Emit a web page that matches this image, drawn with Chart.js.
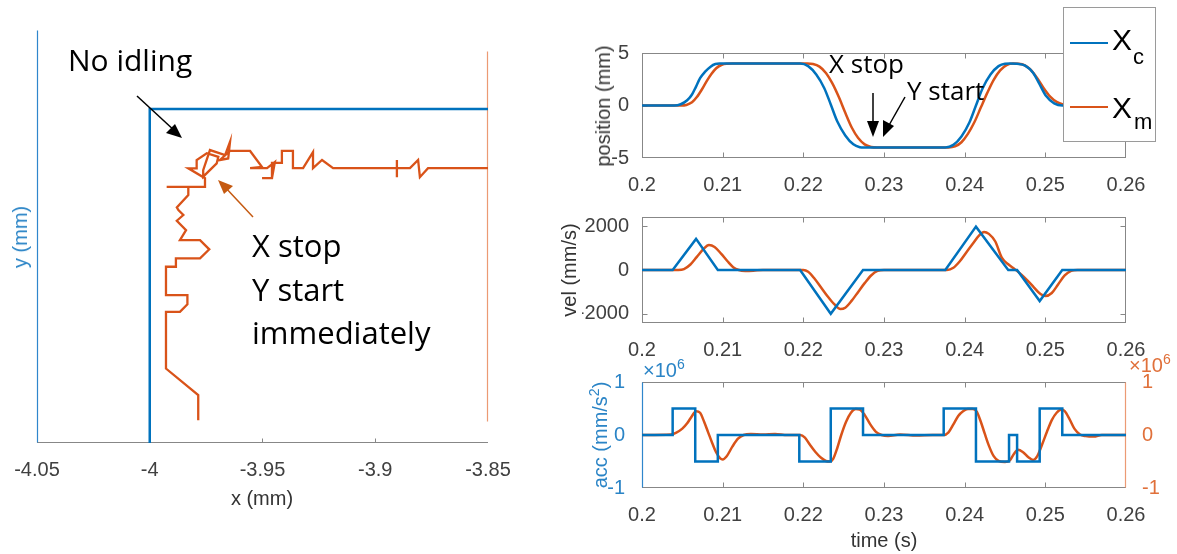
<!DOCTYPE html>
<html><head><meta charset="utf-8">
<script src="https://cdn.jsdelivr.net/npm/chart.js@4.4.1/dist/chart.umd.min.js"></script>
<style>
html,body{margin:0;padding:0;background:#fff;width:1177px;height:554px;overflow:hidden;position:relative;}
canvas{position:absolute;left:0;top:0;}
.t{position:absolute;white-space:nowrap;font-family:"Liberation Sans",Arial,sans-serif;font-size:20px;color:#333;line-height:20px;}
.rot{transform:translate(-50%,-50%) rotate(-90deg);}
.ctr{transform:translate(-50%,-50%);}
.ann{position:absolute;white-space:nowrap;font-family:"Open Sans",sans-serif;color:#000;}
sup{font-size:14px;vertical-align:top;position:relative;top:-6px;}
</style></head><body>
<canvas id="c0" width="1177" height="554"></canvas>
<canvas id="c1" width="1177" height="554"></canvas>
<canvas id="c2" width="1177" height="554"></canvas>
<canvas id="c3" width="1177" height="554"></canvas>

<!-- axis titles -->
<div class="t rot" style="left:20px;top:237px;color:#2a84c6;">y (mm)</div>
<div class="t ctr" style="left:262px;top:498px;">x (mm)</div>
<div class="t rot" style="left:603px;top:106px;">position (mm)</div>
<div class="t rot" style="left:569px;top:270px;">vel (mm/s)</div>
<div class="t rot" style="left:600px;top:435px;color:#2a84c6;">acc (mm/s<sup>2</sup>)</div>
<div class="t ctr" style="left:884px;top:540px;">time (s)</div>
<div class="t" style="left:643px;top:360px;color:#2a84c6;">&times;10<sup>6</sup></div>
<div class="t" style="left:1129px;top:355px;color:#e0703a;">&times;10<sup>6</sup></div>

<!-- annotations -->
<div class="ann" style="left:68px;top:45px;font-size:30px;line-height:30px;">No idling</div>
<div class="ann" style="left:252px;top:224px;font-size:31px;line-height:43.5px;">X stop<br>Y start<br>immediately</div>
<div class="ann" style="left:829px;top:50px;font-size:26px;line-height:26px;">X stop</div>
<div class="ann" style="left:907px;top:77px;font-size:26px;line-height:26px;">Y start</div>

<svg width="1177" height="554" style="position:absolute;left:0;top:0;pointer-events:none;">
  <line x1="137" y1="96" x2="176" y2="132" stroke="#000" stroke-width="1.5"/>
  <path d="M182,138 L166,133 L175,124 z" fill="#000"/>
  <line x1="253" y1="217" x2="224" y2="186" stroke="#c55a11" stroke-width="1.5"/>
  <path d="M218,180 L233,186 L224,194 z" fill="#c55a11"/>
  <line x1="873" y1="93" x2="873" y2="125" stroke="#000" stroke-width="1.5"/>
  <path d="M873,137 L867,121 L879,121 z" fill="#000"/>
  <line x1="905" y1="97" x2="888" y2="127" stroke="#000" stroke-width="1.5"/>
  <path d="M883,137 L883,120 L894,126 z" fill="#000"/>
</svg>

<!-- legend -->
<div style="position:absolute;left:1063px;top:7px;width:93px;height:135px;box-sizing:border-box;border:1px solid #9a9a9a;background:#fff;"></div>
<div style="position:absolute;left:1070px;top:41.75px;width:38px;height:2.5px;background:#0072BD;"></div>
<div class="t" style="left:1112px;top:25px;font-size:30px;line-height:30px;color:#000;">X</div>
<div class="t" style="left:1133px;top:46px;font-size:22px;line-height:22px;color:#000;">c</div>
<div style="position:absolute;left:1070px;top:105.75px;width:38px;height:2.5px;background:#D95319;"></div>
<div class="t" style="left:1112px;top:93px;font-size:30px;line-height:30px;color:#000;">X</div>
<div class="t" style="left:1134px;top:111px;font-size:22px;line-height:22px;color:#000;">m</div>

<script>
// ---------------- data ----------------
// left panel: XY trajectory (mm)
const xyTicks = [-4.05, -4, -3.95, -3.9, -3.85];
const xyTickLabels = ['-4.05', '-4', '-3.95', '-3.9', '-3.85'];
const cmdX = [-4, -4, -3.85];
const cmdY = [3.852, 4, 4];
const measX = [-3.9785, -3.9785, -3.9928, -3.9928, -3.9866, -3.9833, -3.9833, -3.9928, -3.9928, -3.9884,
  -3.9884, -3.9777, -3.9736, -3.9777, -3.9866, -3.9839, -3.9880, -3.9851, -3.9873, -3.9880,
  -3.9829, -3.9829, -3.9925, -3.9755, -3.9755, -3.9829, -3.9792, -3.9792, -3.9747, -3.9696,
  -3.9703, -3.9763, -3.9763, -3.9733, -3.9666, -3.9644, -3.9652, -3.9689, -3.9644, -3.9555,
  -3.9502, -3.9555, -3.9480, -3.9445, -3.9458, -3.9502, -3.9458, -3.9458, -3.9414, -3.9414,
  -3.9365, -3.9365, -3.9320, -3.9276, -3.9276, -3.9236, -3.9187, -3.8904, -3.8904, -3.8904,
  -3.8904, -3.8846, -3.8810, -3.8802, -3.8766, -3.8500];
const measY = [3.8621, 3.8732, 3.8850, 3.9101, 3.9101, 3.9135, 3.9175, 3.9175, 3.9301, 3.9301,
  3.9338, 3.9338, 3.9378, 3.9419, 3.9419, 3.9463, 3.9505, 3.9530, 3.9552, 3.9564,
  3.9619, 3.9655, 3.9655, 3.9655, 3.9693, 3.9737, 3.9737, 3.9774, 3.9804, 3.9788,
  3.9759, 3.9700, 3.9729, 3.9818, 3.9796, 3.9855, 3.9781, 3.9774, 3.9814, 3.9814,
  3.9743, 3.9738, 3.9738, 3.9765, 3.9694, 3.9694, 3.9694, 3.9761, 3.9761, 3.9814,
  3.9814, 3.9738, 3.9738, 3.9809, 3.9738, 3.9774, 3.9738, 3.9738, 3.9774, 3.9698,
  3.9738, 3.9738, 3.9774, 3.9698, 3.9738, 3.9738];

// right panels: time series
const timeTicks = [0.2, 0.21, 0.22, 0.23, 0.24, 0.25, 0.26];
const timeTickLabels = ['0.2', '0.21', '0.22', '0.23', '0.24', '0.25', '0.26'];
const posTicks = [-5, 0, 5];
const posTickLabels = ['-5', '0', '5'];
const velTicks = [-2000, 0, 2000];
const velTickLabels = ['-2000', '0', '2000'];
const accTicks = [-1e6, 0, 1e6];
const accTickLabels = ['-1', '0', '1'];

const posCT = [0.2000, 0.2040, 0.2048, 0.2056, 0.2062, 0.2067, 0.2072, 0.2078, 0.2085, 0.2091, 0.2096,
  0.2196, 0.2206, 0.2216, 0.2226, 0.2234, 0.2242, 0.2252, 0.2262, 0.2270, 0.2275,
  0.2376, 0.2386, 0.2396, 0.2406, 0.2414, 0.2422, 0.2432, 0.2442, 0.2450, 0.2456, 0.2465,
  0.2475, 0.2485, 0.2493, 0.2501, 0.2511, 0.2521, 0.2600];
const posC = [0, 0, 0.12, 0.5, 1.05, 1.8, 2.6, 3.2, 3.7, 3.95, 4.0,
  4.0, 3.75, 2.95, 1.65, 0.1, -1.5, -2.85, -3.7, -3.97, -4.0,
  -4.0, -3.75, -2.95, -1.6, 0.0, 1.6, 2.95, 3.75, 3.98, 4.0, 3.97,
  3.8, 3.1, 2.0, 0.9, 0.2, 0.0, 0.0];
const posMT = [0.2000, 0.2048, 0.2055, 0.2062, 0.2068, 0.2074, 0.2080, 0.2086, 0.2092, 0.2099, 0.2106, 0.2112,
  0.2205, 0.2212, 0.2220, 0.2228, 0.2236, 0.2244, 0.2252, 0.2260, 0.2268, 0.2276, 0.2284, 0.2292,
  0.2380, 0.2388, 0.2396, 0.2404, 0.2412, 0.2420, 0.2428, 0.2436, 0.2444, 0.2452, 0.2460, 0.2467,
  0.2474, 0.2482, 0.2490, 0.2498, 0.2506, 0.2514, 0.2522, 0.2530, 0.2600];
const posM = [0, 0, 0.05, 0.3, 0.8, 1.5, 2.3, 3.0, 3.55, 3.88, 3.98, 4.0,
  4.0, 3.95, 3.7, 3.1, 2.1, 0.8, -0.7, -2.1, -3.1, -3.7, -3.95, -4.0,
  -4.0, -3.9, -3.5, -2.7, -1.6, -0.2, 1.2, 2.45, 3.35, 3.85, 4.0, 3.98,
  3.85, 3.4, 2.6, 1.65, 0.85, 0.35, 0.1, 0.0, 0.0];

const velCT = [0.2, 0.2038, 0.2067, 0.2094, 0.2196, 0.2234, 0.2274, 0.2376, 0.2414, 0.2454, 0.2465, 0.2493, 0.2521, 0.26];
const velC = [0, 0, 1420, 0, 0, -2000, 0, 0, 1980, 0, 0, -1420, 0, 0];
const velMT = [0.2000, 0.2045, 0.2052, 0.2060, 0.2068, 0.2076, 0.2083, 0.2090, 0.2098, 0.2106, 0.2113, 0.2120, 0.2128, 0.2138, 0.2150,
  0.2200, 0.2206, 0.2214, 0.2222, 0.2230, 0.2238, 0.2246, 0.2252, 0.2260, 0.2268, 0.2276, 0.2284, 0.2292, 0.2300,
  0.2378, 0.2386, 0.2394, 0.2402, 0.2410, 0.2418, 0.2424, 0.2430, 0.2438, 0.2446, 0.2454, 0.2462, 0.2470, 0.2478,
  0.2486, 0.2494, 0.2500, 0.2508, 0.2516, 0.2524, 0.2532, 0.2540, 0.2600];
const velM = [0, 0, 40, 250, 600, 950, 1140, 1050, 750, 400, 130, 0, -40, -30, 0,
  0, -80, -400, -800, -1200, -1550, -1780, -1720, -1400, -1000, -600, -250, -40, 0,
  0, 100, 400, 800, 1200, 1580, 1740, 1650, 1300, 560, 260, 40, -200, -480,
  -800, -1100, -1190, -1050, -650, -250, -40, 0, 0];

const accCT = [0.2, 0.2038, 0.2066, 0.2094, 0.2195, 0.2234, 0.2274, 0.2374, 0.2414, 0.2455, 0.2465, 0.2493, 0.2521, 0.26];
const accC = [0, 5e5, -5e5, 0, -5e5, 5e5, 0, 5e5, -5e5, 0, -5e5, 5e5, 0, 0];
const accMT = [0.2000, 0.2036, 0.2042, 0.2050, 0.2056, 0.2062, 0.2067, 0.2072, 0.2077, 0.2082, 0.2087, 0.2092, 0.2097, 0.2100,
  0.2105, 0.2112, 0.2119, 0.2126, 0.2135, 0.2150, 0.2165, 0.2180, 0.2196, 0.2202, 0.2208, 0.2215, 0.2222, 0.2228,
  0.2233, 0.2237, 0.2242, 0.2247, 0.2253, 0.2259, 0.2265, 0.2270, 0.2276, 0.2283, 0.2290, 0.2297, 0.2305, 0.2320,
  0.2340, 0.2360, 0.2374, 0.2380, 0.2386, 0.2392, 0.2398, 0.2404, 0.2410, 0.2415, 0.2420, 0.2425, 0.2430, 0.2436,
  0.2442, 0.2450, 0.2456, 0.2461, 0.2466, 0.2472, 0.2479, 0.2485, 0.2490, 0.2496, 0.2502, 0.2508, 0.2514, 0.2520,
  0.2524, 0.2530, 0.2536, 0.2543, 0.2550, 0.2560, 0.2570, 0.2600];
const accM = [0, 0.01e6, 0.04e6, 0.12e6, 0.22e6, 0.36e6, 0.45e6, 0.42e6, 0.25e6, 0.05e6, -0.15e6, -0.33e6, -0.44e6, -0.46e6,
  -0.40e6, -0.22e6, -0.07e6, 0, 0.02e6, 0.01e6, 0.02e6, 0, 0, -0.05e6, -0.18e6, -0.32e6, -0.43e6, -0.49e6,
  -0.50e6, -0.45e6, -0.25e6, 0, 0.25e6, 0.42e6, 0.49e6, 0.48e6, 0.38e6, 0.20e6, 0.06e6, 0, -0.02e6, 0.01e6,
  -0.01e6, 0, 0, 0.05e6, 0.20e6, 0.36e6, 0.45e6, 0.49e6, 0.49e6, 0.44e6, 0.25e6, 0.02e6, -0.20e6, -0.40e6,
  -0.49e6, -0.51e6, -0.48e6, -0.36e6, -0.28e6, -0.32e6, -0.42e6, -0.47e6, -0.40e6, -0.18e6, 0.06e6, 0.28e6, 0.42e6, 0.48e6,
  0.45e6, 0.30e6, 0.12e6, 0.01e6, -0.02e6, -0.03e6, 0, 0];

// ---------------- styling ----------------
const BLUE = '#0072BD', ORANGE = '#D95319';
const BLUE_T = '#2a84c6', ORANGE_T = '#e0703a';
const GRAY = '#878787', TICKC = '#404040';
const FONT = {family: '"Liberation Sans", Arial, sans-serif', size: 20};
const W = 1177, H = 554;
const YW = 60, YW2 = 45, XH = 40, XPAD = 7;

const pts = (xs, ys) => xs.map((x, i) => ({x: x, y: ys[i]}));

const framePlugin = {
  id: 'frame',
  beforeDatasetsDraw(chart, args, o) {
    const {ctx, chartArea: a, scales} = chart;
    const L = Math.round(a.left) + 0.5, R = Math.round(a.right) - 0.5;
    const T = Math.round(a.top) + 0.5, B = Math.round(a.bottom) - 0.5;
    const tl = o.tick || 5;
    ctx.save();
    const seg = (c, x1, y1, x2, y2, w) => { ctx.lineWidth = w || 1; ctx.strokeStyle = c; ctx.beginPath(); ctx.moveTo(x1, y1); ctx.lineTo(x2, y2); ctx.stroke(); };
    if (o.xTicks) {
      const s = scales.x;
      s.ticks.forEach(t => {
        const p = Math.round(s.getPixelForValue(t.value)) + 0.5;
        if (p <= L + 1 || p >= R - 1) return;
        if (o.xTicks.indexOf('bottom') >= 0) seg(GRAY, p, B, p, B - tl);
        if (o.xTicks.indexOf('top') >= 0) seg(GRAY, p, T, p, T + tl);
      });
    }
    (o.yTicks || []).forEach(d => {
      const s = scales[d[0]];
      s.ticks.forEach(t => {
        const p = Math.round(s.getPixelForValue(t.value)) + 0.5;
        if (p <= T + 1 || p >= B - 1) return;
        if (d[1] === 'left' || d[1] === 'both') seg(d[2], L, p, L + tl, p);
        if (d[1] === 'right' || d[1] === 'both') seg(d[3] || d[2], R, p, R - tl, p);
      });
    });
    if (o.top) seg(o.top, L - 0.5, T, R + 0.5, T);
    if (o.bottom) seg(o.bottom, L - 0.5, B, R + 0.5, B);
    if (o.left) seg(o.left, L, o.leftSpan ? T + o.leftSpan[0] : T, L, o.leftSpan ? B - o.leftSpan[1] : B, o.sideW);
    if (o.right) seg(o.right, R, o.rightSpan ? T + o.rightSpan[0] : T, R, o.rightSpan ? B - o.rightSpan[1] : B, o.sideW);
    ctx.restore();
  }
};

function xScale(min, max, tickVals, tickLabels) {
  return {
    type: 'linear', min: min, max: max,
    afterBuildTicks: s => { s.ticks = tickVals.map(v => ({value: v})); },
    afterFit: s => { s.height = XH; },
    grid: {display: false}, border: {display: false},
    ticks: {font: FONT, color: TICKC, padding: XPAD, autoSkip: false, maxRotation: 0, minRotation: 0,
      callback: (v, i) => tickLabels[i]}
  };
}
function yScale(pos, min, max, tickVals, tickLabels, color, pad, w) {
  return {
    type: 'linear', position: pos, min: min, max: max,
    afterBuildTicks: s => { s.ticks = tickVals.map(v => ({value: v})); },
    afterFit: s => { s.width = w; },
    grid: {display: false}, border: {display: false},
    ticks: {font: FONT, color: color, padding: pad, autoSkip: false,
      callback: (v, i) => tickLabels[i]}
  };
}
// chart area edges (px) -> layout padding given axis box sizes
function area(l, t, r, b, yl, yr) { return {left: l - yl, top: t, right: W - r - yr, bottom: H - b - XH}; }

function make(id, pad, datasets, scales, frame) {
  return new Chart(document.getElementById(id), {
    type: 'line',
    data: {datasets: datasets},
    options: {
      responsive: false, animation: false, devicePixelRatio: 1,
      layout: {padding: pad},
      scales: scales,
      plugins: {legend: {display: false}, tooltip: {enabled: false}, frame: frame},
      elements: {point: {radius: 0}}
    },
    plugins: [framePlugin]
  });
}

// left XY panel
make('c0', area(37, 30, 488, 443, 0, 0), [
  {data: pts(cmdX, cmdY), borderColor: BLUE, borderWidth: 2.5, tension: 0, fill: false},
  {data: pts(measX, measY), borderColor: ORANGE, borderWidth: 2.3, tension: 0, fill: false}
], {
  x: xScale(-4.05, -3.85, xyTicks, xyTickLabels),
  y: {type: 'linear', display: false, min: 3.852, max: 4.035}
}, {left: '#2f86cc', right: '#ec9a74', rightSpan: [21, 21], bottom: GRAY, xTicks: ['bottom'], tick: 4, sideW: 1.2});

// position
make('c1', area(642, 53, 1126, 158, YW, 0), [
  {data: pts(posCT, posC), borderColor: BLUE, borderWidth: 2.5, tension: 0.4, cubicInterpolationMode: 'monotone'},
  {data: pts(posMT, posM), borderColor: ORANGE, borderWidth: 2.5, tension: 0.4, cubicInterpolationMode: 'monotone'}
], {
  x: xScale(0.2, 0.26, timeTicks, timeTickLabels),
  y: yScale('left', -5, 5, posTicks, posTickLabels, TICKC, 5, YW)
}, {top: GRAY, bottom: GRAY, left: GRAY, right: GRAY, xTicks: ['top', 'bottom'], yTicks: [['y', 'both', GRAY]]});

// velocity
make('c2', area(642, 217, 1126, 323, YW, 0), [
  {data: pts(velCT, velC), borderColor: BLUE, borderWidth: 2.5, tension: 0},
  {data: pts(velMT, velM), borderColor: ORANGE, borderWidth: 2.5, tension: 0.4, cubicInterpolationMode: 'monotone'}
], {
  x: xScale(0.2, 0.26, timeTicks, timeTickLabels),
  y: yScale('left', -2420, 2420, velTicks, velTickLabels, TICKC, 5, YW)
}, {top: GRAY, bottom: GRAY, left: GRAY, right: GRAY, xTicks: ['top', 'bottom'], yTicks: [['y', 'both', GRAY]]});

// acceleration
make('c3', area(642, 382, 1126, 488, YW, YW2), [
  {data: pts(accCT, accC), borderColor: BLUE, borderWidth: 2.5, stepped: 'before', yAxisID: 'y'},
  {data: pts(accMT, accM), borderColor: ORANGE, borderWidth: 2.5, tension: 0.4, cubicInterpolationMode: 'monotone', yAxisID: 'y2'}
], {
  x: xScale(0.2, 0.26, timeTicks, timeTickLabels),
  y: yScale('left', -1e6, 1e6, accTicks, accTickLabels, BLUE_T, 9, YW),
  y2: yScale('right', -1e6, 1e6, accTicks, accTickLabels, ORANGE_T, 8, YW2)
}, {top: GRAY, bottom: GRAY, left: '#2f86cc', right: '#ec9a74', xTicks: ['top', 'bottom'],
    yTicks: [['y', 'left', '#2f86cc'], ['y2', 'right', '#ec9a74']], sideW: 1.2});
</script>
</body></html>
